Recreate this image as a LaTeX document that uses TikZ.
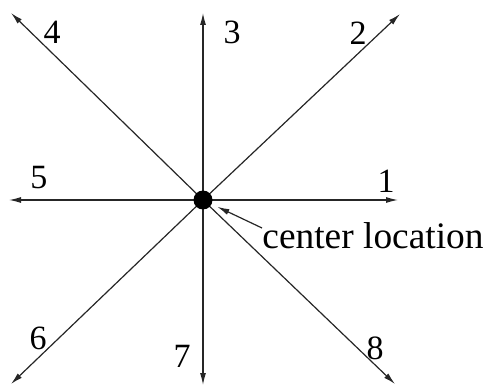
\documentclass[tikz,border=0pt]{standalone}
\usepackage{fontspec}
\setmainfont{Liberation Serif}
\usetikzlibrary{arrows.meta}

\begin{document}
\begin{tikzpicture}[x=0.5pt, y=-0.5pt, >={Latex[length=6pt,width=3pt]}]
  \tikzset{ray/.style={->, line width=0.6pt, black!85},
    num/.style={font=\fontsize{17}{17}\selectfont, inner sep=0pt}}
  \useasboundingbox (0,0) rectangle (488,385);
  \coordinate (o) at (203,200);
  \foreach \n/\x/\y/\lx/\ly in {1/398/200/386/181, 2/400/14/358/33,
    3/203/13/232/32, 4/11/13/52/32, 5/9/200/39/178, 6/11/384/38/338,
    7/203/385/182/356, 8/395/384/375/348} {
    \coordinate (e\n) at (\x,\y);
    \draw[ray] (o) -- (e\n);
    \node[num] (l\n) at (\lx,\ly) {\n};
  }
  \node[circle, fill, inner sep=0pt, minimum size=9.5pt] (c) at (o) {};
  \node[num, font=\fontsize{18.7}{18.7}\selectfont, anchor=west] (txt) at (262,236) {center location};
  \draw[ray, shorten >=3pt] ([yshift=4pt]txt.west) -- (c);
\end{tikzpicture}
\end{document}
